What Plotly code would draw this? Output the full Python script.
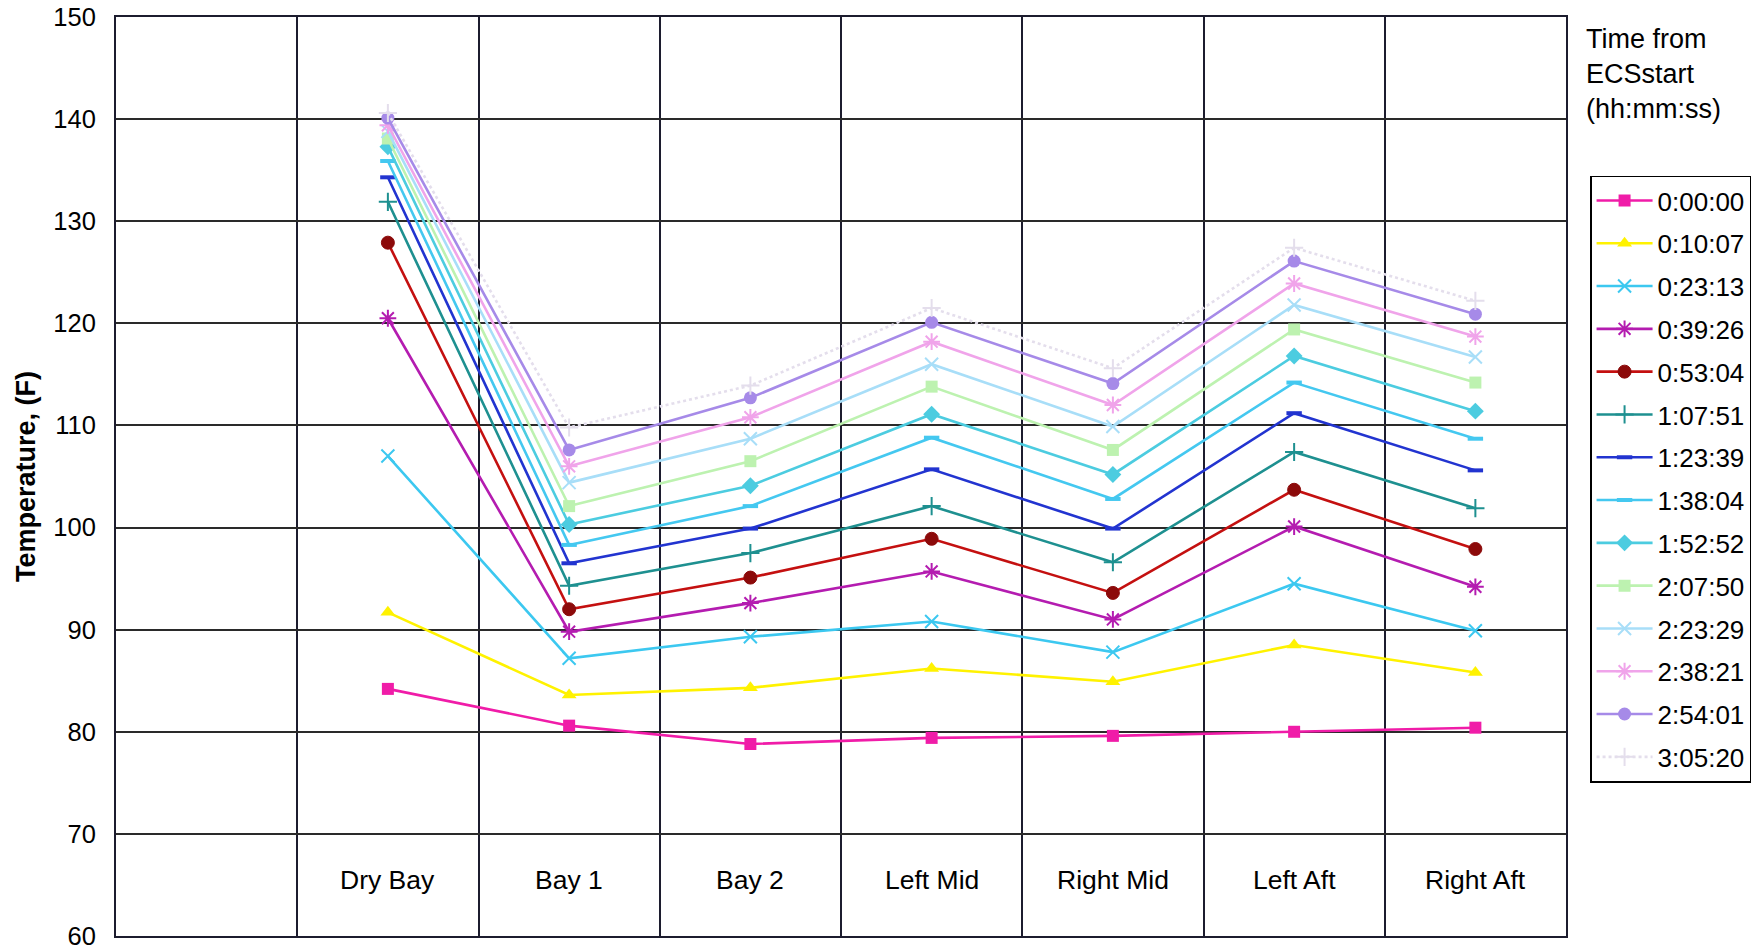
import plotly.graph_objects as go

# ---------------- data ----------------
categories = ["Dry Bay", "Bay 1", "Bay 2", "Left Mid", "Right Mid", "Left Aft", "Right Aft"]

series_names = ["0:00:00", "0:10:07", "0:23:13", "0:39:26", "0:53:04", "1:07:51", "1:23:39",
                "1:38:04", "1:52:52", "2:07:50", "2:23:29", "2:38:21", "2:54:01", "3:05:20"]

t_0_00_00 = [84.2, 80.6, 78.8, 79.4, 79.6, 80.0, 80.4]
t_0_10_07 = [91.7, 83.6, 84.3, 86.2, 84.9, 88.5, 85.8]
t_0_23_13 = [107.0, 87.2, 89.3, 90.8, 87.8, 94.5, 89.9]
t_0_39_26 = [120.5, 89.8, 92.6, 95.7, 91.0, 100.1, 94.2]
t_0_53_04 = [127.9, 92.0, 95.1, 98.9, 93.6, 103.7, 97.9]
t_1_07_51 = [131.9, 94.3, 97.5, 102.1, 96.6, 107.4, 101.9]
t_1_23_39 = [134.3, 96.5, 99.9, 105.7, 99.9, 111.2, 105.6]
t_1_38_04 = [135.9, 98.3, 102.1, 108.8, 102.8, 114.2, 108.7]
t_1_52_52 = [137.3, 100.3, 104.1, 111.1, 105.2, 116.8, 111.4]
t_2_07_50 = [138.1, 102.1, 106.5, 113.8, 107.6, 119.4, 114.2]
t_2_23_29 = [138.8, 104.4, 108.7, 116.0, 109.9, 121.8, 116.7]
t_2_38_21 = [139.4, 106.0, 110.8, 118.2, 112.0, 123.9, 118.7]
t_2_54_01 = [140.1, 107.6, 112.7, 120.1, 114.1, 126.1, 120.9]
t_3_05_20 = [140.6, 109.8, 113.9, 121.5, 115.6, 127.4, 122.2]

series_values = [t_0_00_00, t_0_10_07, t_0_23_13, t_0_39_26, t_0_53_04, t_1_07_51, t_1_23_39,
                 t_1_38_04, t_1_52_52, t_2_07_50, t_2_23_29, t_2_38_21, t_2_54_01, t_3_05_20]

y_ticks = [60, 70, 80, 90, 100, 110, 120, 130, 140, 150]

# ---------------- styles ----------------
colors = ["#F01CA8", "#FFF200", "#3CC8F0", "#B41CB0", "#C41010", "#1E9090", "#2234D0",
          "#44C8F0", "#4CCCE0", "#BDF2B0", "#A8DEF8", "#F0A4EA", "#A68AE8", "#E4DEEC"]
marker_colors = ["#F01CA8", "#FFF200", "#3CC8F0", "#B41CB0", "#8C0A0A", "#1E9090", "#2234D0",
                 "#44C8F0", "#4CCCE0", "#BDF2B0", "#A8DEF8", "#F0A4EA", "#A68AE8", "#E4DEEC"]
symbols = ["square", "triangle-up", "x-thin-open", "asterisk-open", "circle", "cross-thin-open",
           "line-ew-open", "line-ew-open", "diamond", "square", "x-thin-open", "asterisk-open",
           "circle", "cross-thin-open"]
sizes = [12, 13, 13, 14, 13, 13, 11, 11, 13, 12, 13, 14, 13, 13]
mline = [0, 0, 2, 2, 1, 2, 4, 4, 0, 0, 2, 2, 0, 2]
dashes = ["solid"] * 13 + ["dot"]

FONT = "Liberation Sans, Arial, sans-serif"

fig = go.Figure()
for name, vals, c, mc, s, sz, mw, d in zip(series_names, series_values, colors, marker_colors,
                                             symbols, sizes, mline, dashes):
    fig.add_trace(go.Scatter(
        x=categories, y=vals, name=name, mode="lines+markers", legendgroup=name,
        line=dict(color=c, width=2.6, dash=d),
        marker=dict(symbol=s, size=sz, color=mc, line=dict(color=mc, width=mw)),
    ))

# category labels drawn inside the plot
for cat in categories:
    fig.add_annotation(x=cat, y=65.5, xref="x", yref="y", text=cat, showarrow=False,
                       font=dict(family=FONT, size=26.5, color="black"))

# legend title above the legend box
fig.add_annotation(x=1.0124, y=0.995, xref="paper", yref="paper", xanchor="left", yanchor="top",
                   align="left", showarrow=False, text="Time from<br>ECSstart<br>(hh:mm:ss)",
                   font=dict(family=FONT, size=27, color="black"))

fig.update_layout(
    width=1754, height=951,
    margin=dict(l=116, r=188, t=17, b=15, autoexpand=False),
    paper_bgcolor="white", plot_bgcolor="white",
    font=dict(family=FONT, size=25, color="black"),
    showlegend=True,
    legend=dict(x=1.0166, y=0.8275, xanchor="left", yanchor="top",
                bordercolor="black", borderwidth=1.5, bgcolor="white",
                font=dict(family=FONT, size=26, color="black"),
                tracegroupgap=6, itemwidth=56),
    xaxis=dict(type="category", categoryorder="array", categoryarray=categories,
               range=[-1.5, 6.5], tickson="boundaries", showgrid=True, automargin=False,
               gridcolor="#1c1c2e", gridwidth=1.5, showticklabels=False, ticks="",
               showline=True, linecolor="#1c1c2e", linewidth=2, mirror=True, zeroline=False),
    yaxis=dict(range=[60, 150], tickvals=y_ticks, showgrid=True, gridcolor="#2a2a2a",
               gridwidth=2, ticks="", showline=True, linecolor="#1c1c2e", linewidth=2,
               mirror=True, zeroline=False, automargin=False, ticklabeloverflow="allow",
               tickfont=dict(family=FONT, size=25.5, color="black"),
               ticklabelstandoff=13,
               title=dict(text="Temperature, (F)", standoff=10,
                          font=dict(family=FONT, size=27, color="black", weight="bold"))),
)

fig.write_html("out.html", config={"displayModeBar": False},
               post_script="document.body.style.margin='0';document.body.style.overflow='hidden';")
